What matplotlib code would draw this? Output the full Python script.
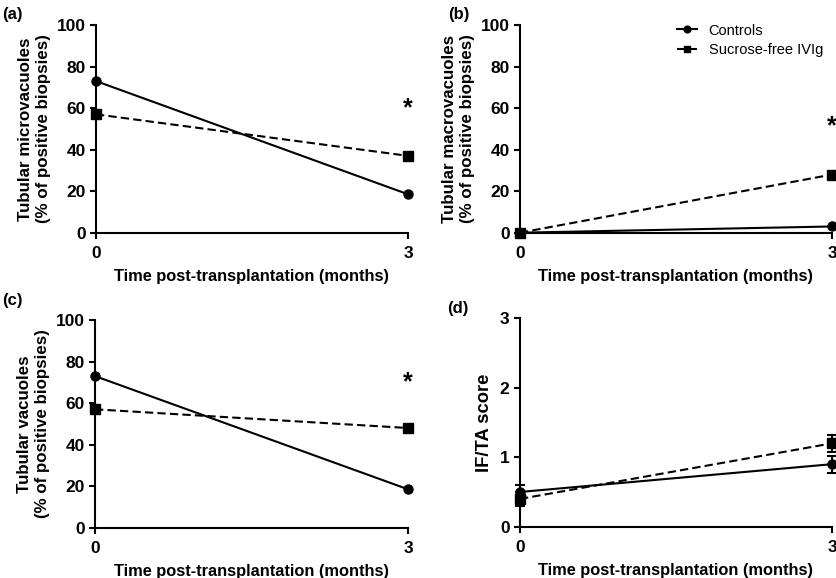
import matplotlib
matplotlib.use("Agg")
import matplotlib.pyplot as plt

plt.rcParams['font.family'] = ['Liberation Sans', 'DejaVu Sans']

time_months = [0, 3]
x_ticks = [0, 3]

micro_controls = [73, 18.5]
micro_ivig = [57, 37]
macro_controls = [0, 3]
macro_ivig = [0, 28]
vac_controls = [73, 18.5]
vac_ivig = [57, 48]
ifta_controls = [0.5, 0.9]
ifta_controls_err = [0.1, 0.12]
ifta_ivig = [0.4, 1.2]
ifta_ivig_err = [0.1, 0.12]

star_pos = {'a': 60, 'b': 51, 'c': 70}

W, H = 836, 578
fig = plt.figure(figsize=(W / 100, H / 100), dpi=100)

def box(l, r, t, b):
    return [l / W, 1 - b / H, (r - l) / W, (b - t) / H]

LW = 1.5
MS = 6.5
DASH = (4, 2)

def style(ax, ylim, yticks, ylabel, ylab_x, ylab_size=12.2):
    ax.set_xlim(0, 3)
    ax.set_ylim(*ylim)
    ax.set_xticks(x_ticks)
    ax.set_yticks(yticks)
    for s in ['top', 'right']:
        ax.spines[s].set_visible(False)
    for s in ['left', 'bottom']:
        ax.spines[s].set_linewidth(1.5)
    ax.tick_params(direction='out', length=4.5, width=1.5, labelsize=12.5)
    ax.tick_params(axis='x', pad=5)
    ax.tick_params(axis='y', pad=3)
    for lab in ax.get_xticklabels() + ax.get_yticklabels():
        lab.set_fontweight('bold')
    ax.set_xlabel('Time post-transplantation (months)', fontsize=11.8, fontweight='bold', labelpad=6)
    ax.set_ylabel(ylabel, fontsize=ylab_size, fontweight='bold', linespacing=1.25)
    ax.yaxis.set_label_coords(ylab_x, 0.5)

def pct_panel(ax, ctrl, ivig, ylabel, star):
    ax.plot(time_months, ctrl, '-', color='black', lw=LW, marker='o', ms=MS, clip_on=False, zorder=3, label='Controls')
    ax.plot(time_months, ivig, color='black', lw=LW, ls=(0, DASH), marker='s', ms=MS, clip_on=False, zorder=3, label='Sucrose-free IVIg')
    style(ax, (0, 100), [0, 20, 40, 60, 80, 100], ylabel, -0.145)
    ax.text(3, star, '*', ha='center', va='center', fontsize=18, fontweight='bold')

ax_a = fig.add_axes(box(96, 408, 25, 232.7))
pct_panel(ax_a, micro_controls, micro_ivig, 'Tubular microvacuoles\n(% of positive biopsies)', star_pos['a'])

ax_b = fig.add_axes(box(520, 832, 25, 232.7))
pct_panel(ax_b, macro_controls, macro_ivig, 'Tubular macrovacuoles\n(% of positive biopsies)', star_pos['b'])
leg = ax_b.legend(loc='upper left', bbox_to_anchor=(0.46, 1.07), frameon=False, fontsize=10.5,
                  handlelength=1.4, handletextpad=0.8, labelspacing=0.35, markerscale=0.75)

ax_c = fig.add_axes(box(95, 408, 320, 527.7))
pct_panel(ax_c, vac_controls, vac_ivig, 'Tubular vacuoles\n(% of positive biopsies)', star_pos['c'])

ax_d = fig.add_axes(box(520, 832, 318.3, 526.7))
ax_d.errorbar(time_months, ifta_controls, yerr=ifta_controls_err, fmt='-o', color='black', lw=LW, ms=MS,
              capsize=3.5, capthick=1.5, elinewidth=1.5, clip_on=False, zorder=3)
ax_d.errorbar(time_months, ifta_ivig, yerr=ifta_ivig_err, fmt='-s', color='black', lw=LW, ms=MS, ls=(0, DASH),
              capsize=3.5, capthick=1.5, elinewidth=1.5, clip_on=False, zorder=3)
style(ax_d, (0, 3), [0, 1, 2, 3], 'IF/TA score', -0.088, ylab_size=13.2)

for lbl, (x, y) in {'(a)': (2, 14), '(b)': (448, 14), '(c)': (2, 300), '(d)': (447, 309)}.items():
    fig.text(x / W, 1 - y / H, lbl, fontsize=12, fontweight='bold', ha='left', va='center')

fig.savefig('out.png', dpi=100)
